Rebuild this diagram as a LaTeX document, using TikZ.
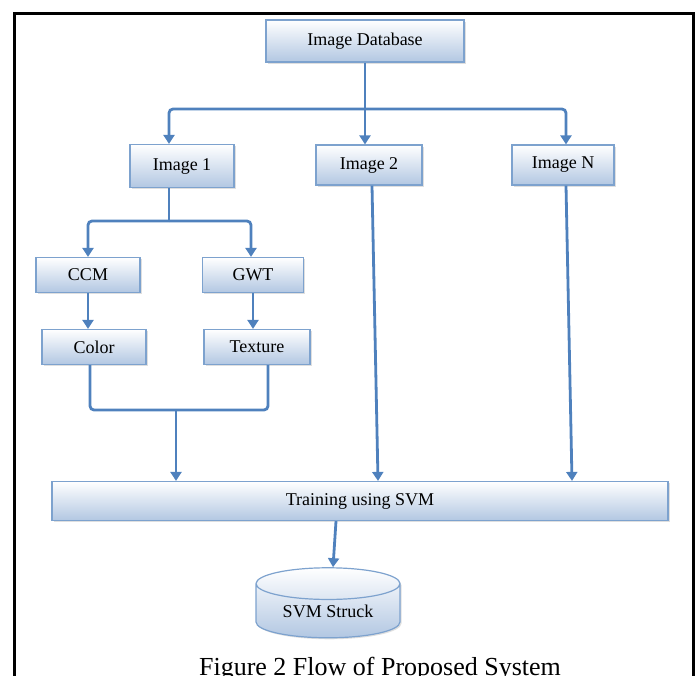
\documentclass[tikz,border=0pt]{standalone}
\usepackage{fontspec}
\setmainfont{Liberation Serif}
\usetikzlibrary{arrows.meta,shadows,shapes.geometric}

\definecolor{flowblue}{RGB}{79,129,189}
\definecolor{boxedge}{RGB}{125,162,206}
\definecolor{boxfill}{RGB}{178,199,226}

\tikzset{
  box/.style={draw=boxedge,line width=1.2pt,top color=white,bottom color=boxfill,
    drop shadow={opacity=0.25,shadow xshift=1.5pt,shadow yshift=-1.5pt},
    font=\fontsize{18}{20}\selectfont,inner sep=0pt},
  line/.style={draw=flowblue,line width=2.8pt,rounded corners=4pt},
  flow/.style={line,-{Triangle[width=11pt,length=9pt]}}
}

\begin{document}
\begin{tikzpicture}[x=1pt,y=-1pt]

  \useasboundingbox (0,0) rectangle (696,675);
  \draw[line width=3pt] (14,700) -- (14,13) -- (693,13) -- (693,700);

  \draw (365,41) node[box,minimum width=198pt,minimum height=42pt] (imgdb) {Image Database};
\draw (182,166) node[box,minimum width=104pt,minimum height=43pt] (img1) {Image 1};
\draw (369,165) node[box,minimum width=106pt,minimum height=40pt] (img2) {Image 2};
\draw (563,165) node[box,minimum width=102pt,minimum height=40pt] (imgn) {Image N};
\draw (88,275) node[box,minimum width=104pt,minimum height=35pt] (ccm) {CCM};
\draw (253,275) node[box,minimum width=101pt,minimum height=35pt] (gwt) {GWT};
\draw (94,347) node[box,minimum width=104pt,minimum height=35pt] (color) {Color};
\draw (257,347) node[box,minimum width=106pt,minimum height=35pt] (texture) {Texture};
\draw (360,501) node[box,minimum width=616pt,minimum height=39pt] (train) {Training using SVM};
\draw (328,611) node[box,cylinder,shape border rotate=90,aspect=0.35,
    minimum width=144pt,minimum height=70pt] (svm) {SVM Struck};

  \coordinate (split) at (365,109);
  \coordinate (fork) at (169,221);
  \coordinate (join) at (176,410);

  \draw[line] (imgdb.south) -- (split);
  \draw[flow] (split) -| ([xshift=-13pt]img1.north);
  \draw[flow] (split) -- (split |- img2.north);
  \draw[flow] (split) -| ([xshift=3pt]imgn.north);

  \draw[line] ([xshift=-13pt]img1.south) -- (fork);
  \draw[flow] (fork) -| (ccm.north);
  \draw[flow] (fork) -| ([xshift=-2pt]gwt.north);

  \draw[flow] (ccm.south) -- (ccm.south |- color.north);
  \draw[flow] (gwt.south) -- (gwt.south |- texture.north);

  \draw[line] ([xshift=-4pt]color.south) |- (join) -| ([xshift=11pt]texture.south);
  \draw[flow] (join) -- (join |- train.north);

  \draw[flow] ([xshift=3pt]img2.south) -- ([xshift=18pt]train.north);
  \draw[flow] ([xshift=3pt]imgn.south) -- ([xshift=212pt]train.north);
  \draw[flow] ([xshift=-24pt]train.south) -- ([xshift=5pt]svm.north);

  \draw (380,675) node[anchor=base,font=\fontsize{26}{28}\selectfont] (caption) {Figure 2 Flow of Proposed System};

\end{tikzpicture}
\end{document}
